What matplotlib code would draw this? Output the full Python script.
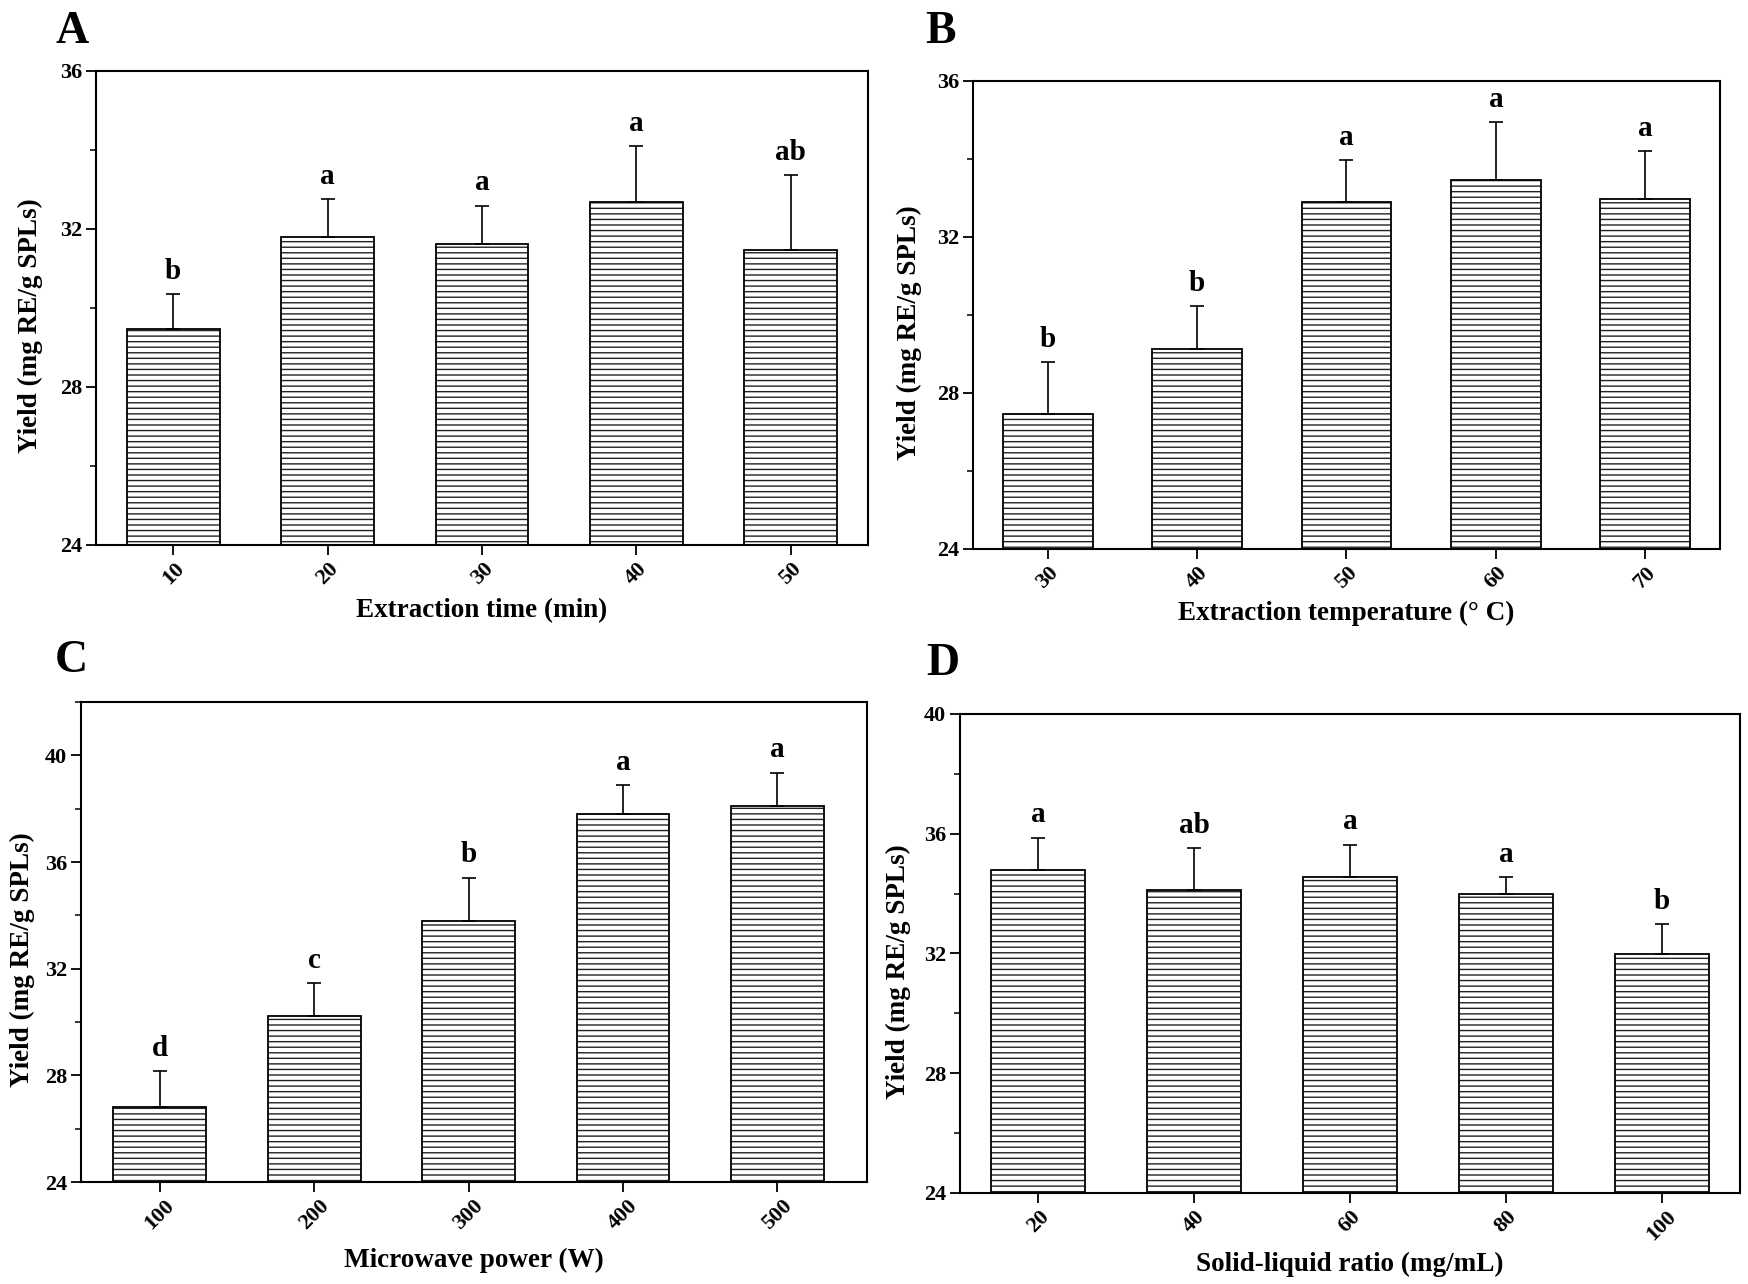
import numpy as np
import matplotlib
matplotlib.use("Agg")
import matplotlib.pyplot as plt
from matplotlib.ticker import MultipleLocator, AutoMinorLocator


#################### Data

# A - extraction time
time_labels = ['10', '20', '30', '40', '50']
time_mean = [29.48, 31.79, 31.62, 32.68, 31.48]
time_err = [0.87, 0.97, 0.97, 1.41, 1.89]
time_sig = ['b', 'a', 'a', 'a', 'ab']

# B - extraction temperature
temp_labels = ['30', '40', '50', '60', '70']
temp_mean = [27.47, 29.14, 32.90, 33.45, 32.97]
temp_err = [1.32, 1.08, 1.08, 1.49, 1.23]
temp_sig = ['b', 'b', 'a', 'a', 'a']

# C - microwave power
power_labels = ['100', '200', '300', '400', '500']
power_mean = [26.82, 30.21, 33.80, 37.80, 38.11]
power_err = [1.35, 1.24, 1.61, 1.08, 1.24]
power_sig = ['d', 'c', 'b', 'a', 'a']

# D - solid-liquid ratio
ratio_labels = ['20', '40', '60', '80', '100']
ratio_mean = [34.79, 34.12, 34.56, 33.99, 31.98]
ratio_err = [1.08, 1.39, 1.08, 0.57, 1.00]
ratio_sig = ['a', 'ab', 'a', 'a', 'b']


#################### Plot parameters

plt.rcParams['font.family'] = 'serif'
plt.rcParams['font.serif'] = ['Liberation Serif', 'DejaVu Serif']
plt.rcParams['font.weight'] = 'bold'
plt.rcParams['axes.labelweight'] = 'bold'
plt.rcParams['hatch.linewidth'] = 1.0
plt.rcParams['hatch.color'] = '#222222'

tick_size = 16
label_size = 19.5
sig_size = 21
panel_size = 33

fig_w, fig_h = 1749, 1284   # pixels
dpi = 100

# axes boxes in pixels: left, right, top, bottom
boxes = {
    'A': (96, 868, 71, 545),
    'B': (973, 1720, 81, 549),
    'C': (81, 867, 702, 1182),
    'D': (960, 1740, 714, 1193),
}

fig = plt.figure(figsize=(fig_w / dpi, fig_h / dpi), dpi=dpi)


def make_panel(key, labels, mean, err, sig, xlabel, ylim, xlim,
               xlab_off, ylab_off, letter_xy):
    l, r, t, b = boxes[key]
    ax = fig.add_axes((l / fig_w, 1 - b / fig_h, (r - l) / fig_w, (b - t) / fig_h))
    x = np.arange(len(labels))

    # hatched fill, then black outline
    ax.bar(x, mean, width=0.6, color='white', edgecolor='#222222',
           linewidth=0, hatch='---', zorder=2)
    ax.bar(x, mean, width=0.6, fill=False, edgecolor='black',
           linewidth=1.3, zorder=3)
    ax.errorbar(x, mean, yerr=[np.zeros(len(err)), err], fmt='none',
                ecolor='black', elinewidth=1.2, capsize=5, capthick=1.2,
                zorder=4)

    for xi, m, e, s in zip(x, mean, err, sig):
        ax.annotate(s, (xi, m + e), xytext=(0, 11), textcoords='offset points',
                    ha='center', va='baseline', fontsize=sig_size,
                    fontweight='bold')

    ax.set_xlim(*xlim)
    ax.set_ylim(*ylim)
    ax.set_xticks(x)
    ax.set_xticklabels(labels, rotation=45, ha='center', fontsize=tick_size)
    ax.yaxis.set_major_locator(MultipleLocator(4))
    ax.yaxis.set_minor_locator(AutoMinorLocator(2))
    ax.tick_params(axis='both', which='major', direction='out', length=7,
                   width=1.3, labelsize=tick_size, pad=3)
    ax.tick_params(axis='y', which='minor', direction='out', length=4, width=1.1)
    for sp in ax.spines.values():
        sp.set_linewidth(1.5)

    ax.set_xlabel(xlabel, fontsize=label_size, va='center')
    ax.xaxis.set_label_coords(0.5, -xlab_off / (b - t))
    ax.set_ylabel('Yield (mg RE/g SPLs)', fontsize=label_size, va='center')
    ax.yaxis.set_label_coords(-ylab_off / (r - l), 0.5 - 18 / (b - t))

    fig.text(letter_xy[0] / fig_w, 1 - letter_xy[1] / fig_h, key,
             fontsize=panel_size, fontweight='bold', ha='center', va='baseline')
    return ax


make_panel('A', time_labels, time_mean, time_err, time_sig,
           'Extraction time (min)', (24, 36), (-0.5, 4.5), 66, 66, (72, 43))
make_panel('B', temp_labels, temp_mean, temp_err, temp_sig,
           'Extraction temperature (° C)', (24, 36), (-0.5, 4.5), 64, 64, (941, 43))
make_panel('C', power_labels, power_mean, power_err, power_sig,
           'Microwave power (W)', (24, 42), (-0.51, 4.58), 78, 59, (71, 672))
make_panel('D', ratio_labels, ratio_mean, ratio_err, ratio_sig,
           'Solid-liquid ratio (mg/mL)', (24, 40), (-0.5, 4.5), 71, 62, (943, 675))

fig.savefig('out.png', dpi=dpi)
